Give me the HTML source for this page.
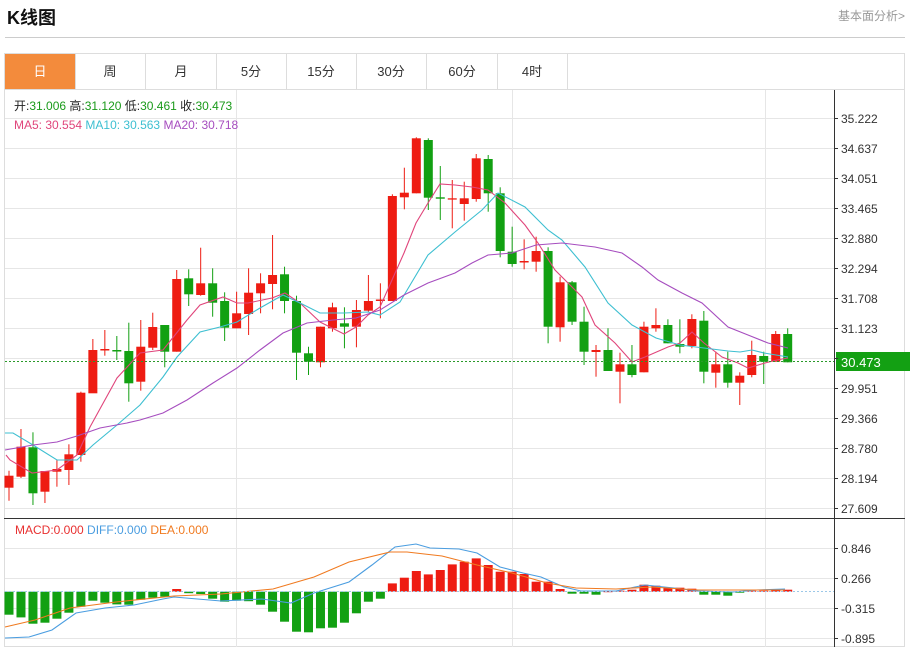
<!DOCTYPE html>
<html><head><meta charset="utf-8"><style>
body{margin:0;background:#fff;width:910px;height:649px;overflow:hidden;font-family:"Liberation Sans","Noto Sans CJK SC",sans-serif}
svg text{font-family:"Liberation Sans","Noto Sans CJK SC",sans-serif}
</style></head><body>
<svg id="s" width="910" height="649" xmlns="http://www.w3.org/2000/svg">
<text x="7" y="24" font-size="18" font-weight="bold" fill="#111">K线图</text>
<text x="838" y="20" font-size="12" fill="#999">基本面分析&gt;</text>
<line x1="5" y1="37.5" x2="905" y2="37.5" stroke="#ccc"/>
<rect x="4.5" y="53.5" width="900" height="593" fill="none" stroke="#ddd"/>
<line x1="4" y1="89.5" x2="905" y2="89.5" stroke="#ddd"/>
<rect x="5" y="54" width="70" height="35" fill="#f38b3c"/>
<g stroke="#ddd"><line x1="75.5" y1="54" x2="75.5" y2="89"/><line x1="145.5" y1="54" x2="145.5" y2="89"/><line x1="216.5" y1="54" x2="216.5" y2="89"/><line x1="286.5" y1="54" x2="286.5" y2="89"/><line x1="356.5" y1="54" x2="356.5" y2="89"/><line x1="426.5" y1="54" x2="426.5" y2="89"/><line x1="497.5" y1="54" x2="497.5" y2="89"/><line x1="567.5" y1="54" x2="567.5" y2="89"/></g>
<g font-size="13" fill="#333" text-anchor="middle"><text x="40" y="76" fill="#fff">日</text><text x="110" y="76">周</text><text x="181" y="76">月</text><text x="251" y="76">5分</text><text x="321" y="76">15分</text><text x="391" y="76">30分</text><text x="462" y="76">60分</text><text x="532" y="76">4时</text></g>
<g id="grid" stroke="#e6e6e6"></g>
<line x1="834.5" y1="90" x2="834.5" y2="647" stroke="#333"/>
<line x1="4" y1="518.5" x2="905" y2="518.5" stroke="#333"/>
<g id="c"></g>
<line x1="5" y1="361.5" x2="834" y2="361.5" stroke="#2a9a2a" stroke-dasharray="2,2"/>
<rect x="836" y="352" width="74" height="19" fill="#13a013"/>
<text x="841" y="367" font-size="13" fill="#fff">30.473</text>
<text x="14" y="110" font-size="12" fill="#222">开:<tspan fill="#1a9a1a">31.006</tspan>  高:<tspan fill="#1a9a1a">31.120</tspan>  低:<tspan fill="#1a9a1a">30.461</tspan>  收:<tspan fill="#1a9a1a">30.473</tspan></text>
<text x="14" y="129" font-size="12" fill="#e0457b">MA5: 30.554 <tspan fill="#3dbfd1">  MA10: 30.563 </tspan><tspan fill="#a64dbf">  MA20: 30.718</tspan></text>
<text x="15" y="534" font-size="12" fill="#e83030">MACD:0.000 <tspan fill="#4a9de0">  DIFF:0.000 </tspan><tspan fill="#f07a20">  DEA:0.000</tspan></text>
</svg>
<script>
var NS="http://www.w3.org/2000/svg",s=document.getElementById('s'),g=document.getElementById('grid'),c=document.getElementById('c');
function el(p,t,a){var e=document.createElementNS(NS,t);for(var k in a)e.setAttribute(k,a[k]);p.appendChild(e);return e;}
var labs=["35.222","34.637","34.051","33.465","32.880","32.294","31.708","31.123","30.537","29.951","29.366","28.780","28.194","27.609"];
for(var i=0;i<14;i++){var y=118+i*30;el(g,'line',{x1:5,y1:y+.5,x2:834,y2:y+.5});el(s,'line',{x1:834,y1:y+.5,x2:838,y2:y+.5,stroke:'#333'});
 if(i!=8){var t=el(s,'text',{x:841,y:y+5,'font-size':12,fill:'#333'});t.textContent=labs[i];}}
var ml=["0.846","0.266","-0.315","-0.895"];
for(i=0;i<4;i++){var y=548+i*30;el(g,'line',{x1:5,y1:y+.5,x2:834,y2:y+.5});el(s,'line',{x1:834,y1:y+.5,x2:838,y2:y+.5,stroke:'#333'});var t=el(s,'text',{x:841,y:y+5,'font-size':12,fill:'#333'});t.textContent=ml[i];}
[236.5,512.5,765.5].forEach(function(x){el(g,'line',{x1:x,y1:90,x2:x,y2:647});});
el(s,'line',{x1:5,y1:591.5,x2:834,y2:591.5,stroke:'#9cc8e8','stroke-dasharray':'2,2'});
var R='#ee1c12',G='#12a012';
var d=[[R,475.7,487.7,470.7,500.7],[R,446.7,476.7,429,478],[G,447.3,493.3,432.3,505],[R,471,491.7,471,503],[R,469,471.7,460,486.7],[R,454.3,470,444.3,485],[R,392.7,455,391.7,461.7],[R,350,393.3,339,393],[R,349,350.5,330,355.7],[G,350,351.5,336,360],
[G,351,383.3,322.7,401.7],[R,346.7,381.7,320,390.7],[R,327,347.7,312.7,350],[G,325,351.7,325,367.3],[R,279,351.7,270,351.7],[G,278.3,294.3,269.3,306],[R,283.3,295,247.7,295.7],[G,283.3,302.7,268.3,316.7],[G,301,327.7,292.3,341],[R,313.3,328.3,291.7,328.3],
[R,292.7,314,268.3,335],[R,283.3,293.3,273.3,313.3],[R,275,284,235,309.3],[G,274.3,301,266.7,313.3],[G,301,352.7,295.7,380],[G,353.3,361.7,346.7,375],[R,326.7,362.3,326.7,367.3],[R,307.3,328.3,302.7,331.7],[G,323.3,326.7,307.3,348.3],[R,310,326.7,300,347.3],
[R,301,310.7,275,311.7],[R,299.5,301,283.3,318.3],[R,196,301,194.3,301],[R,192.7,197.3,167.7,209.3],[R,138.3,193.3,137.3,193.3],[G,140,197.7,138.3,210],[G,197.3,198.7,166,220],[R,198.3,199.5,180,228.3],[R,198.3,204,181.7,220.7],[R,158.3,199,154,201.7],
[G,159,193.3,155,211.7],[G,193.3,251,187.3,257.3],[G,251.7,264,226.7,266.7],[R,261,262.5,239.3,269.3],[R,251,261.7,236.7,271.7],[G,251,326.7,247.3,343.3],[R,282.3,327.3,276.7,341.7],[G,282.3,321.7,281,325],[G,321.7,351.7,306.7,365],[R,350,352,345,376.7],
[G,350,371,328.3,371],[R,364.3,371.7,352.7,403.3],[G,364.3,375,345,377.3],[R,326.7,372.3,321.7,372.3],[R,325,328.3,308.3,331.7],[G,325,343.3,319.3,343.3],[G,344,346.7,319.3,353.3],[R,319,346,314.3,348.3],[G,320.7,371.7,311,383.3],[R,364.3,372.7,351.7,387.7],
[G,364.3,382.7,351.7,387.7],[R,375.7,382.7,372.3,405],[R,355,375,340.7,377.3],[G,356,361.7,351.7,384],[R,334,361.7,331,361.7],[G,334,362.3,328.3,362.3]];
var mh=[-23,-25.7,-32,-31,-27,-21,-15,-9,-11,-12.7,-13,-8,-6,-5,2.7,-1.5,-2.3,-7,-10,-9,-9.5,-13,-20,-30,-40,-40.6,-36.6,-36,-31,-21.6,-10,-7,8.3,14,20.7,17.3,21.7,27.3,30,33.3,26.7,20,20,17.7,10,10,2.7,-2,-2,-3,0.5,1,2,7,6,4,4,3,-3,-3,-4,-1,1,1,2,2];
for(i=0;i<d.length;i++){var x=9+i*11.98,a=d[i];
 el(c,'line',{x1:x,y1:a[3],x2:x,y2:a[4],stroke:a[0],'stroke-width':1});
 el(c,'rect',{x:x-4.5,y:a[1],width:9,height:Math.max(1.3,a[2]-a[1]),fill:a[0]});
 var h=mh[i];el(c,'rect',{x:x-4.5,y:h>0?591.7-h:591.7,width:9,height:Math.max(1,Math.abs(h)),fill:h>0?R:G});}
function pl(pts,col){el(c,'polyline',{points:pts,fill:'none',stroke:col,'stroke-width':1.1});}
pl("6,455 10,460 32,473 57,470 77,455 90,427 117,378 140,353 163,350 187,320 200,305 223,297 237,303 248,303 272,298 285,293 300,303 320,322 344,334 356,327 368,315 380,307 392,280 404,253 416,223 428,203 440,184 455,185 472,187 488,190 505,203 525,225 538,243 555,270 582,297 595,325 615,343 632,362 645,357 668,347 680,343 692,332 704,343 722,357 738,363 748,368 765,363 777,360 788,358",'#e0457b');
pl("5,433 13,433 33,445 57,460 77,460 93,445 117,425 140,405 163,377 177,357 200,332 220,327 237,322 260,308 283,295 300,303 320,313 344,313 368,312 380,315 400,302 428,255 455,232 482,210 498,193 525,207 548,230 562,240 585,267 608,303 632,325 656,338 680,345 704,348 728,351 740,352 752,350 764,353 788,357",'#3dbfd1');
pl("5,450 33,445 57,442 77,436 100,428 127,423 140,420 163,413 187,400 213,383 237,368 260,350 283,333 307,323 333,320 356,318 380,310 404,295 428,283 455,273 472,263 488,255 512,253 536,245 562,243 595,247 622,253 642,267 658,280 682,293 702,303 728,327 748,335 768,343 788,348",'#a64dbf');
pl("5,638 29,637 52,630 76,613 105,608 134,605 163,599 174,597 221,601 262,599 291,603 314,593 349,582 372,565 395,547 416,544 430,548 459,549 477,553 500,567 523,573 541,577 564,587 581,591 616,591 645,585 674,588 698,591 733,592 756,590 785,589",'#4a9de0');
pl("5,627 35,620 70,608 116,602 174,596 221,594 273,589 314,577 349,562 390,552 407,552 442,556 477,565 512,573 547,583 576,588 616,589 651,587 698,590 785,590",'#f07a20');
</script>
</body></html>
